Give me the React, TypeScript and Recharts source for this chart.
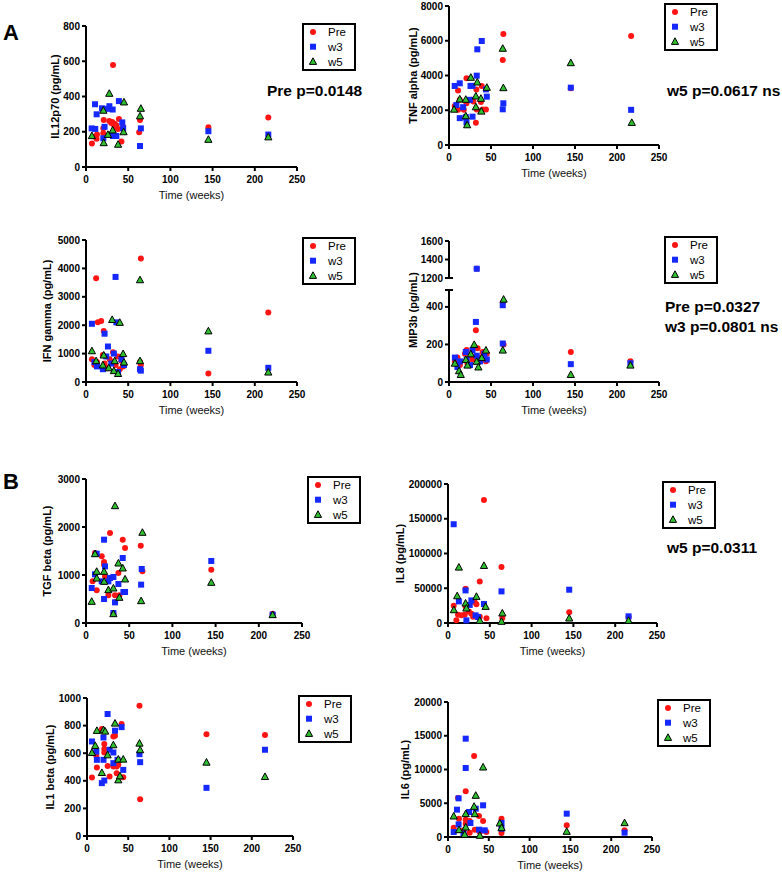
import React from 'react';
import { ScatterChart, Scatter, XAxis, YAxis, Legend } from 'recharts';

const FONT = '"Liberation Sans", Arial, Helvetica, sans-serif';
const RED = '#ff1414';
const BLUE = '#1428ff';
const GREEN = '#2fbf2f';

const seriesNames = ['Pre', 'w3', 'w5'];
const weekTicks = [0, 50, 100, 150, 200, 250];

// ---- IL12p70 ----  [week, pg/mL]
const il12Ticks = [0, 200, 400, 600, 800];
const il12Pre = [[7, 133], [11, 172], [12.5, 160], [13, 185], [20.5, 191], [20.5, 220], [21, 267], [27.6, 261], [30, 250], [31, 255], [32, 579], [33, 240], [34, 245], [35, 225], [36, 235], [38, 215], [39, 272], [42, 144], [44, 229], [63, 197], [64, 267], [145, 226], [216, 281]];
const il12W3 = [[6.7, 219], [10.7, 356], [11, 216], [12.6, 299], [19, 333], [20.5, 163], [22, 228], [26, 330], [27.7, 345], [31.6, 326], [32, 176], [36, 176], [39, 374], [43, 253], [44, 220], [64, 119], [65, 219], [145, 203], [216, 184]];
const il12W5 = [[7, 178], [20.6, 322], [21, 138], [26, 185], [27.6, 418], [31.6, 210], [38, 129], [44.5, 200], [45, 369], [64, 290], [65, 333], [145, 157], [216, 171]];

// ---- TNF alpha ----
const tnfTicks = [0, 2000, 4000, 6000, 8000];
const tnfPre = [[6.8, 2250], [10.8, 3130], [10.8, 2023], [12.8, 2600], [17.6, 2023], [20.8, 3837], [20.8, 2400], [26.8, 2600], [27.4, 2570], [29, 2500], [32, 1284], [32.6, 3190], [33, 2050], [38, 2474], [39, 3400], [40, 2050], [44, 2050], [64, 4892], [64.7, 6388], [145, 3263], [216.8, 6280]];
const tnfW3 = [[6.8, 3398], [8.8, 2300], [12.8, 3551], [12.8, 1546], [16.8, 2176], [20, 1600], [20.8, 1300], [24.8, 2600], [25.6, 3398], [28, 1630], [28, 3405], [33, 3990], [33.7, 5507], [39, 5985], [44, 3200], [45, 2782], [64, 2054], [64.7, 2400], [145, 3300], [216.8, 2024]];
const tnfW5 = [[6, 2062], [12.8, 2650], [20, 1680], [20, 2630], [21.6, 1164], [26, 3896], [32, 2820], [32, 2200], [33.7, 3626], [38, 2686], [38.5, 1950], [45, 3320], [64, 5565], [64.7, 3298], [145, 4737], [217.6, 1298]];

// ---- IFN gamma ----
const ifnTicks = [0, 1000, 2000, 3000, 4000, 5000];
const ifnPre = [[7, 800], [10, 600], [12, 3650], [13, 700], [14, 2100], [18, 2150], [20, 950], [21, 1800], [22, 650], [26, 500], [28, 800], [32, 1050], [33, 700], [35, 600], [38, 900], [40, 450], [42, 750], [44, 550], [64, 700], [65, 4350], [65, 600], [145, 300], [216, 2450]];
const ifnW3 = [[7, 2050], [10, 700], [13, 550], [20, 450], [22, 1700], [24, 900], [26, 1250], [30, 650], [33, 1000], [35, 3700], [36, 2100], [38, 350], [42, 800], [45, 600], [64, 450], [65, 400], [145, 1100], [216, 500]];
const ifnW5 = [[7, 1100], [12, 750], [20, 600], [21, 950], [27, 500], [31, 2200], [33, 400], [34, 750], [38, 300], [40, 2100], [44, 1000], [45, 700], [64, 3600], [64, 750], [145, 1800], [216, 350]];

// ---- MIP3b (broken axis) ----
const mipTopTicks = [1200, 1400, 1600];
const mipLowTicks = [0, 200, 400];
const mipPre = [[7, 110], [10, 130], [13, 90], [19, 150], [21, 170], [22, 100], [26, 140], [28, 120], [32, 275], [33, 1300], [34, 180], [38, 130], [40, 160], [44, 110], [45, 150], [64, 423], [65, 200], [145, 160], [216, 110]];
const mipW3 = [[7, 130], [10, 80], [13, 110], [20, 160], [21, 120], [25, 90], [28, 170], [32, 320], [33, 1300], [33, 140], [37, 110], [42, 150], [45, 120], [64, 409], [64, 205], [145, 95], [216, 100]];
const mipW5 = [[7, 100], [12, 60], [14, 40], [20, 120], [22, 90], [26, 150], [30, 200], [33, 110], [35, 80], [39, 130], [44, 170], [64, 170], [65, 441], [145, 40], [216, 90]];

// ---- TGF beta ----
const tgfTicks = [0, 1000, 2000, 3000];
const tgfPre = [[7.7, 868], [10.4, 1458], [12.4, 680], [18.2, 1389], [20.9, 1271], [20.9, 1215], [22, 972], [25.9, 576], [27.8, 1875], [31.7, 194], [33.6, 576], [33.6, 430], [37.5, 1042], [38.6, 576], [42.5, 1736], [45.2, 1562], [63.4, 1611], [65.3, 1076], [145, 1111], [216, 194]];
const tgfW3 = [[6.6, 729], [10.4, 1014], [12.4, 1444], [18.2, 868], [20.9, 1736], [20.9, 500], [22, 1180], [25.9, 868], [27.8, 937], [31.7, 958], [31.7, 208], [33.6, 430], [37.5, 812], [42.5, 1354], [43.3, 646], [45.2, 646], [63.8, 799], [64.5, 1125], [145, 1292], [216, 174]];
const tgfW5 = [[6.6, 451], [10.4, 1444], [12.4, 937], [12.4, 1076], [20.9, 1076], [21, 868], [25.9, 694], [31.7, 729], [31.7, 194], [33.6, 2444], [37.5, 1250], [38.6, 535], [42.5, 1146], [45.2, 917], [63.8, 465], [65.3, 1889], [145, 847], [216, 174]];

// ---- IL8 ----
const il8Ticks = [0, 50000, 100000, 150000, 200000];
const il8Pre = [[6.8, 24900], [10, 3800], [12, 12000], [16, 11000], [20, 12000], [21, 49300], [21, 23900], [25, 16700], [28, 13400], [30, 9000], [32, 29700], [34, 27000], [38, 59800], [38, 9000], [43, 177000], [46, 7000], [64, 80400], [65, 7200], [145, 15300], [216, 8600]];
const il8W3 = [[6.8, 142100], [13, 31100], [21, 46900], [22, 3800], [26, 26000], [28, 32500], [33, 11000], [36, 8600], [43, 27300], [64, 45500], [145, 47900], [216, 9600]];
const il8W5 = [[7, 19100], [11, 39200], [13, 80400], [21, 28700], [22, 21500], [34, 38300], [38, 3800], [43, 82800], [45, 23900], [64, 2400], [65, 14400], [145, 7200], [216, 3800]];

// ---- IL1 beta ----
const il1Ticks = [0, 200, 400, 600, 800, 1000];
const il1Pre = [[6, 424], [11.3, 581], [12, 496], [18, 775], [21, 666], [21, 630], [21, 605], [25, 508], [27.4, 431], [32, 721], [32, 504], [34, 726], [36, 504], [36, 455], [38, 516], [42, 811], [44, 426], [63.7, 944], [64.5, 266], [145, 738], [216, 731]];
const il1W3 = [[6, 685], [11.3, 612], [12, 552], [18, 383], [20, 714], [20, 552], [21, 402], [25, 884], [27.4, 625], [32, 528], [32, 605], [34, 763], [37, 552], [42, 789], [44, 479], [63.7, 593], [64.5, 535], [145, 349], [216, 625]];
const il1W5 = [[6, 605], [10, 656], [12, 765], [18, 460], [20, 770], [22, 760], [25, 588], [32, 661], [34, 818], [38, 407], [38, 557], [40, 436], [44, 557], [63.7, 673], [64.5, 625], [145, 535], [216, 431]];

// ---- IL6 ----
const il6Ticks = [0, 5000, 10000, 15000, 20000];
const il6Pre = [[7, 1383], [12.3, 5778], [13.5, 2716], [19, 988], [21.7, 6765], [21.7, 2568], [21.7, 1975], [26.6, 2370], [26.6, 642], [32, 12000], [32.8, 1086], [38, 3111], [39, 740], [43, 2370], [47, 740], [65.6, 2716], [65.6, 593], [145.5, 1728], [216.4, 988]];
const il6W3 = [[7, 741], [11, 4049], [13, 5728], [13, 1876], [19, 494], [21.7, 14567], [21.7, 10222], [25.8, 3704], [27.5, 2074], [34, 4197], [38, 1086], [43, 4691], [45, 988], [65.6, 2074], [65.6, 1235], [145.5, 3457], [216.4, 642]];
const il6W5 = [[7, 3111], [13.5, 1086], [20.5, 395], [21.7, 3457], [21.7, 1481], [32, 4543], [32.8, 3457], [34, 6173], [39, 247], [43, 10370], [63.5, 2074], [65.6, 1383], [145.5, 839], [216.4, 2123]];

const toPts = (arr: number[][]) => arr.map(([x, y]) => ({ x, y }));

const marker = (i: number, cx: number, cy: number) => {
  if (i === 0) return <circle cx={cx} cy={cy} r={3} fill={RED} />;
  if (i === 1) return <rect x={cx - 3} y={cy - 3} width={6} height={6} fill={BLUE} />;
  return (
    <polygon
      points={`${cx},${cy - 3.6} ${cx + 3.6},${cy + 3} ${cx - 3.6},${cy + 3}`}
      fill={GREEN}
      stroke="#000"
      strokeWidth={1}
    />
  );
};

// boxed legend like the GraphPad original
const LegendBox = () => (
  <svg width={55} height={49} style={{ display: 'block', overflow: 'visible' }}>
    <rect x={1} y={1} width={52} height={46} fill="#fff" stroke="#000" strokeWidth={2} />
    {seriesNames.map((name, i) => (
      <g key={name}>
        {marker(i, 11, 9 + i * 14.7)}
        <text x={26} y={9 + i * 14.7} dy="0.36em" fontSize={11.5} fontFamily={FONT} fill="#000">
          {name}
        </text>
      </g>
    ))}
  </svg>
);

const axisLine = { stroke: '#000', strokeWidth: 2 };
const tickStyle = { fill: '#000', fontSize: 10, fontWeight: 700, fontFamily: FONT };

const PAD_L = 60;
const PAD_T = 10;
const PAD_R = 70;

interface PanelProps {
  left: number;
  top: number;
  w: number;
  h: number;
  series: number[][][];
  domain: [number, number];
  ticks: number[];
  yLabel?: string;
  labelGap?: number;
  hideX?: boolean;
  legend?: boolean;
  legendTop?: number;
}

function Panel({ left, top, w, h, series, domain, ticks, yLabel, labelGap = 32, hideX = false, legend = true, legendTop = -3 }: PanelProps) {
  const padB = hideX ? 12 : 40;
  return (
    <div style={{ position: 'absolute', left: left - PAD_L, top: top - PAD_T }}>
      <ScatterChart
        width={PAD_L + w + PAD_R}
        height={PAD_T + h + padB}
        margin={{ top: PAD_T, right: PAD_R, bottom: hideX ? padB : 0, left: 0 }}
      >
        <XAxis
          type="number"
          dataKey="x"
          domain={[0, 250]}
          ticks={weekTicks}
          hide={hideX}
          height={40}
          axisLine={axisLine}
          tickLine={axisLine}
          tickSize={4}
          tickMargin={5}
          tick={tickStyle}
          label={{ value: 'Time (weeks)', position: 'insideBottom', offset: 8, fill: '#111', fontSize: 11, fontFamily: FONT }}
        />
        <YAxis
          type="number"
          dataKey="y"
          domain={domain}
          ticks={ticks}
          width={PAD_L}
          axisLine={axisLine}
          tickLine={axisLine}
          tickSize={4}
          tickMargin={2}
          tick={tickStyle}
          label={
            yLabel
              ? { value: yLabel, angle: -90, position: 'insideLeft', offset: PAD_L - labelGap, fill: '#000', fontSize: 11, fontWeight: 700, fontFamily: FONT, style: { textAnchor: 'middle' } }
              : undefined
          }
        />
        {series.map((s, i) => (
          <Scatter
            key={seriesNames[i]}
            name={seriesNames[i]}
            data={toPts(s)}
            isAnimationActive={false}
            shape={(p: any) => marker(i, p.cx, p.cy)}
          />
        ))}
        {legend && (
          <Legend
            layout="horizontal"
            verticalAlign="middle"
            align="center"
            content={() => <LegendBox />}
            wrapperStyle={{ left: PAD_L + w + 5, top: PAD_T + legendTop, width: 55, height: 49 }}
          />
        )}
      </ScatterChart>
    </div>
  );
}

const Note = ({ text, x, y, size = 15.5 }: { text: string; x: number; y: number; size?: number }) => (
  <div style={{ position: 'absolute', left: x, top: y - 10, lineHeight: '20px', fontSize: size, fontWeight: 700, fontFamily: FONT, whiteSpace: 'nowrap', color: '#000' }}>
    {text}
  </div>
);

// short bar marking the ends of a broken axis
const Cap = ({ x, y }: { x: number; y: number }) => (
  <div style={{ position: 'absolute', left: x - 4, top: y - 1, width: 8, height: 2, background: '#000' }} />
);

const mipUpper = (arr: number[][]) => arr.filter(([, v]) => v >= 1000);
const mipLower = (arr: number[][]) => arr.filter(([, v]) => v < 1000);

export default function App() {
  return (
    <div style={{ position: 'absolute', left: 0, top: 0, width: 782, height: 873, background: '#fff', overflow: 'hidden', fontFamily: FONT }}>
      <Note text="A" x={3} y={33} size={22} />
      <Note text="B" x={3} y={482} size={22} />

      <Panel left={86} top={26} w={211} h={141} series={[il12Pre, il12W3, il12W5]} domain={[0, 800]} ticks={il12Ticks} yLabel="IL12p70 (pg/mL)" labelGap={31} />
      <Note text="Pre p=0.0148" x={267} y={91} />

      <Panel left={449} top={6} w={210} h={139} series={[tnfPre, tnfW3, tnfW5]} domain={[0, 8000]} ticks={tnfTicks} yLabel="TNF alpha (pg/mL)" labelGap={36} />
      <Note text="w5 p=0.0617 ns" x={667} y={91} />

      <Panel left={86} top={240} w={211} h={142} series={[ifnPre, ifnW3, ifnW5]} domain={[0, 5000]} ticks={ifnTicks} yLabel="IFN gamma (pg/mL)" labelGap={39} />

      <Panel left={449} top={241} w={210} h={37} series={[mipUpper(mipPre), mipUpper(mipW3), mipUpper(mipW5)]} domain={[1200, 1600]} ticks={mipTopTicks} hideX legendTop={-5} />
      <Panel left={449} top={290} w={210} h={92} series={[mipLower(mipPre), mipLower(mipW3), mipLower(mipW5)]} domain={[0, 490]} ticks={mipLowTicks} legend={false} />
      <Cap x={449} y={278} />
      <Cap x={449} y={290} />
      <div style={{ position: 'absolute', left: 413 - 75, top: 310 - 8, width: 150, lineHeight: '16px', textAlign: 'center', transform: 'rotate(-90deg)', fontSize: 11, fontWeight: 700, fontFamily: FONT, color: '#000' }}>
        MIP3b (pg/mL)
      </div>
      <Note text="Pre p=0.0327" x={665} y={307} />
      <Note text="w3 p=0.0801 ns" x={665} y={327} />

      <Panel left={86} top={479} w={216} h={144} series={[tgfPre, tgfW3, tgfW5]} domain={[0, 3000]} ticks={tgfTicks} yLabel="TGF beta (pg/mL)" labelGap={39} />

      <Panel left={448} top={484} w={209} h={139} series={[il8Pre, il8W3, il8W5]} domain={[0, 200000]} ticks={il8Ticks} yLabel="IL8 (pg/mL)" labelGap={48} />
      <Note text="w5 p=0.0311" x={667} y={548} />

      <Panel left={87} top={698} w={206} h={138} series={[il1Pre, il1W3, il1W5]} domain={[0, 1000]} ticks={il1Ticks} yLabel="IL1 beta (pg/mL)" labelGap={37} />

      <Panel left={448} top={702} w={204} h={135} series={[il6Pre, il6W3, il6W5]} domain={[0, 20000]} ticks={il6Ticks} yLabel="IL6 (pg/mL)" labelGap={43} />
    </div>
  );
}
